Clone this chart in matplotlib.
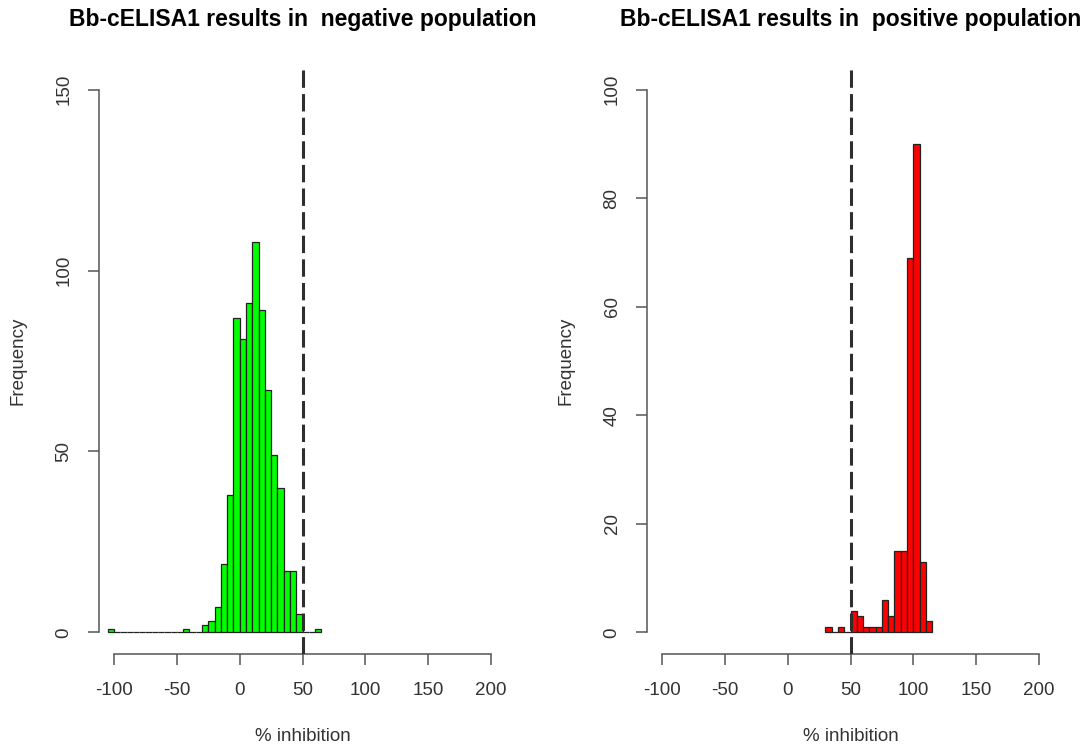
import matplotlib
matplotlib.use("Agg")
import matplotlib.pyplot as plt

plt.rcParams['font.family'] = ['Liberation Sans', 'DejaVu Sans']

# ---- data (5-unit bins, lower edge of each bin) ----
neg_bin_start = [-105, -100, -95, -90, -85, -80, -75, -70, -65, -60, -55, -50,
                 -45, -40, -35, -30, -25, -20, -15, -10, -5, 0, 5, 10, 15, 20,
                 25, 30, 35, 40, 45, 50, 55, 60]
neg_counts = [1, 0, 0, 0, 0, 0, 0, 0, 0, 0, 0, 0,
              1, 0, 0, 2, 3, 7, 19, 38, 87, 81, 91, 108, 89, 67,
              49, 40, 17, 17, 5, 0, 0, 1]

pos_bin_start = [30, 35, 40, 45, 50, 55, 60, 65, 70, 75, 80, 85, 90, 95, 100,
                 105, 110]
pos_counts = [1, 0, 1, 0, 4, 3, 1, 1, 1, 6, 3, 15, 15, 69, 90, 13, 2]

x_ticks = [-100, -50, 0, 50, 100, 150, 200]
neg_y_ticks = [0, 50, 100, 150]
pos_y_ticks = [0, 20, 40, 60, 80, 100]
cutoff = 50

titles = ["Bb-cELISA1 results in  negative population",
          "Bb-cELISA1 results in  positive population"]
xlabel = "% inhibition"
ylabel = "Frequency"

# ---- figure ----
W, H = 1089, 751
fig = plt.figure(figsize=(W / 100, H / 100), dpi=100)
ax1 = fig.add_axes([99 / W, 1 - 654 / H, 407 / W, 586 / H])
ax2 = fig.add_axes([647 / W, 1 - 654 / H, 407 / W, 586 / H])

axis_col = '#555555'
text_col = '#333333'
fs = 13.5

def style(ax, bins, counts, color, yticks, ymax, title):
    ax.bar(bins, counts, width=5, align='edge', color=color,
           edgecolor='#222222', linewidth=0.9, zorder=2)
    lw = 2.2
    ax.axvline(cutoff, color='#2e2e2e', linewidth=lw,
               dashes=(12.5 / lw, 4.5 / lw), zorder=3)
    pad = 0.04 * (x_ticks[-1] - x_ticks[0])
    ax.set_xlim(x_ticks[0] - pad, x_ticks[-1] + pad)
    ax.set_ylim(-0.04 * ymax, ymax * 1.04)
    for s in ['top', 'right']:
        ax.spines[s].set_visible(False)
    for s in ['left', 'bottom']:
        ax.spines[s].set_color(axis_col)
        ax.spines[s].set_linewidth(1.1)
    ax.spines['bottom'].set_bounds(x_ticks[0], x_ticks[-1])
    ax.spines['left'].set_bounds(yticks[0], yticks[-1])
    ax.set_xticks(x_ticks)
    ax.set_xticklabels([str(t) for t in x_ticks])
    ax.set_yticks(yticks)
    ax.set_yticklabels([str(t) for t in yticks], rotation=90, va='center')
    ax.tick_params(direction='out', length=8, width=1.1, color=axis_col,
                   labelsize=fs, labelcolor=text_col, pad=11)
    ax.tick_params(axis='x', pad=12)
    ax.set_xlabel(xlabel, fontsize=fs, color=text_col)
    ax.xaxis.set_label_coords(0.5, -0.126)
    ax.set_ylabel(ylabel, fontsize=fs, color=text_col)
    ax.yaxis.set_label_coords(-0.177, 0.5)
    ax.set_title(title, fontsize=16.5, fontweight='bold', color='black',
                 y=1.072, pad=0)

style(ax1, neg_bin_start, neg_counts, '#00ff00', neg_y_ticks, 150, titles[0])
style(ax2, pos_bin_start, pos_counts, '#ff0000', pos_y_ticks, 100, titles[1])

fig.savefig('out.png', dpi=100)
